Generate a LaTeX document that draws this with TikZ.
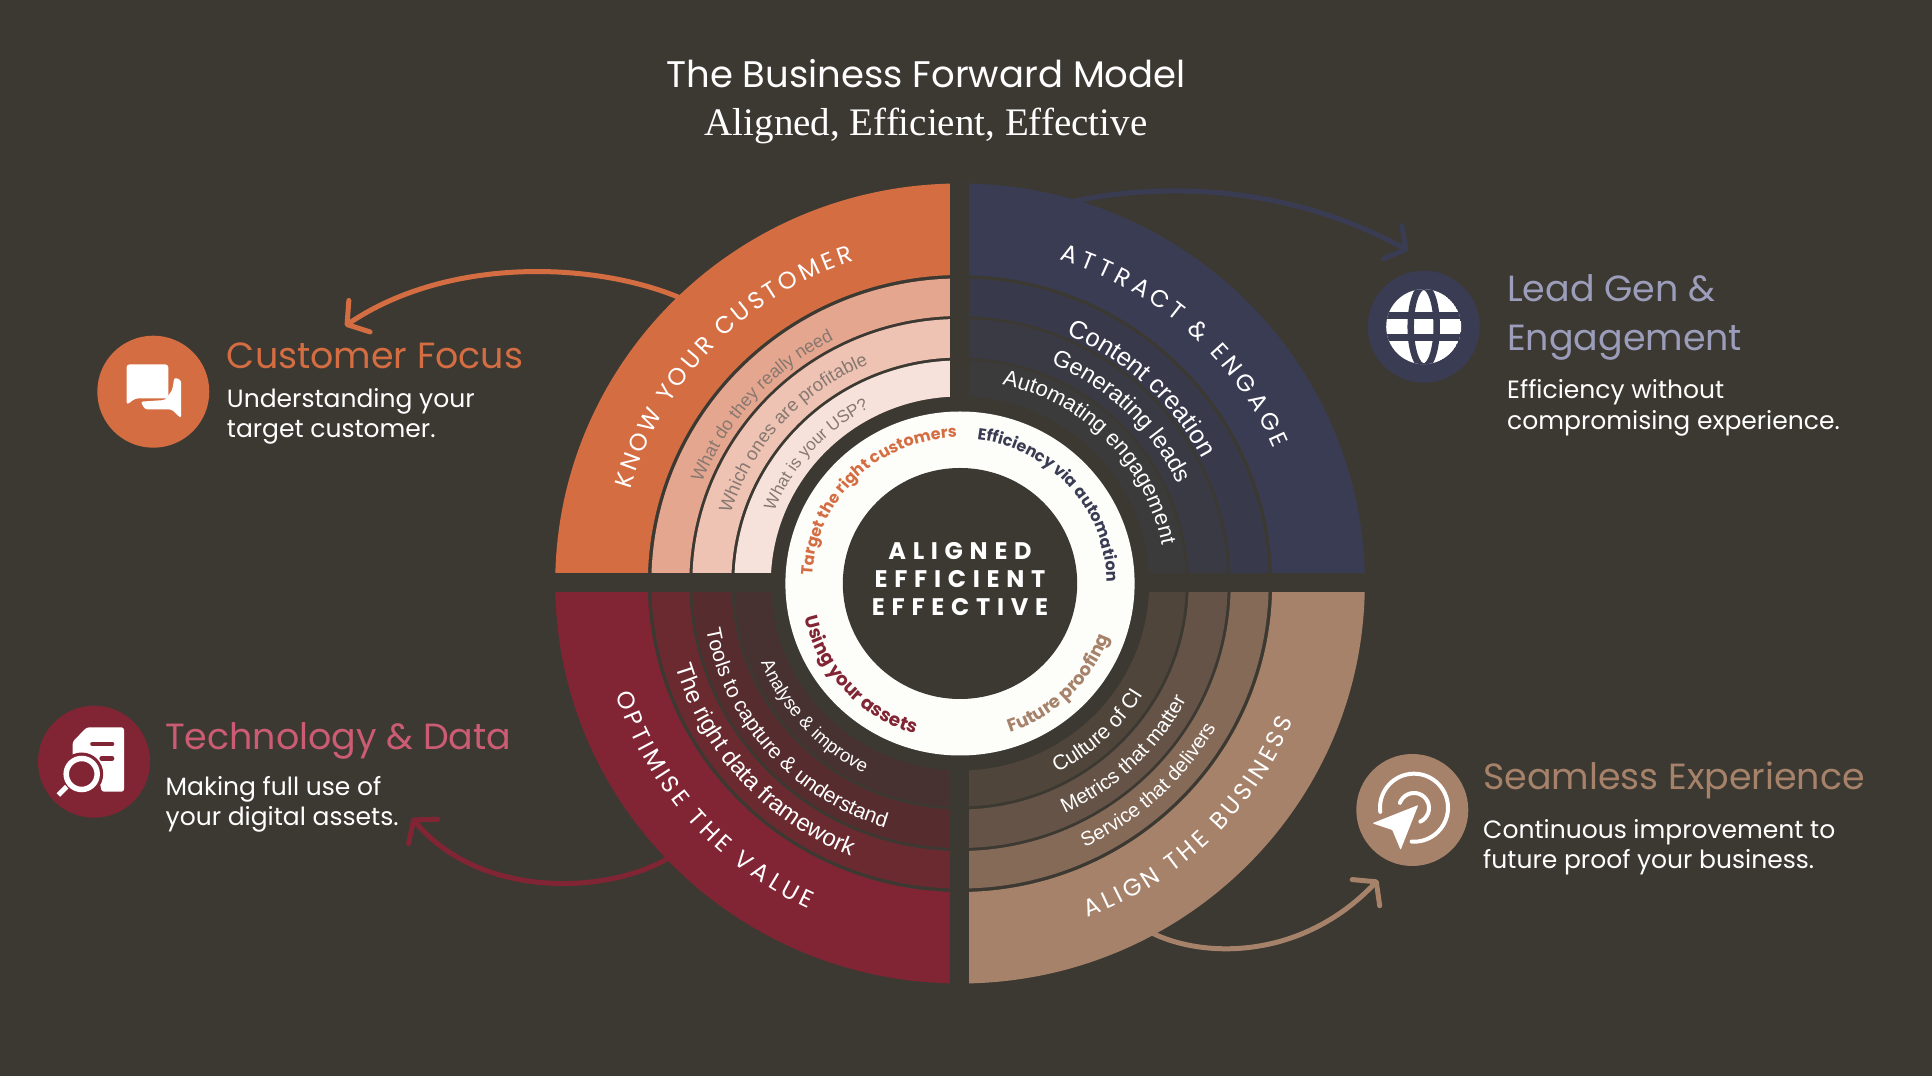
\documentclass[tikz,border=0pt]{standalone}
\usepackage{fontspec}
\usetikzlibrary{arrows.meta, decorations.text}
\setmainfont{Poppins}
\newfontfamily\bandfont{Liberation Sans}
\newfontfamily\subtitlefont{Liberation Serif}
\newfontfamily\centrefont[LetterSpace=28]{Poppins}
\definecolor{colorback}{RGB}{60,57,50}
\definecolor{colororange}{RGB}{213,109,66}
\definecolor{orange1}{RGB}{229,166,143}
\definecolor{orange2}{RGB}{238,195,179}
\definecolor{orange3}{RGB}{246,226,218}
\definecolor{colornavy}{RGB}{58,60,84}
\definecolor{navy1}{RGB}{56,57,75}
\definecolor{navy2}{RGB}{58,58,69}
\definecolor{navy3}{RGB}{60,59,59}
\definecolor{colorcrimson}{RGB}{129,37,53}
\definecolor{crimson1}{RGB}{106,42,48}
\definecolor{crimson2}{RGB}{87,44,46}
\definecolor{crimson3}{RGB}{72,50,49}
\definecolor{colorbrown}{RGB}{166,130,106}
\definecolor{brown1}{RGB}{134,106,88}
\definecolor{brown2}{RGB}{100,83,70}
\definecolor{brown3}{RGB}{80,69,59}
\definecolor{colorpink}{RGB}{203,92,115}
\definecolor{colorlilac}{RGB}{156,157,187}
\definecolor{colorgrey}{RGB}{134,120,112}
\definecolor{colorpaper}{RGB}{253,253,250}
\newcommand{\px}[1]{\fontsize{#1}{#1}\selectfont}
\newcommand{\bandsector}[5]{\fill[#1] (#2:{1.012*#4} and #4) arc[start angle=#2, end angle=#3, x radius=1.012*#4, y radius=#4] -- (#3:{1.012*#5} and #5) arc[start angle=#3, end angle=#2, x radius=1.012*#5, y radius=#5] -- cycle;}
\newcommand{\curvetext}[5]{\path[decorate, decoration={text along path, text align=center, text={|#4|#5}}] ({#1-(#3)*75}:{1.012*#2} and #2) arc[start angle=#1-(#3)*75, end angle=#1+(#3)*75, x radius=1.012*#2, y radius=#2];}
\newcommand{\capsarc}[6]{
	\xdef\capsang{#2}
	\foreach \ch/\chw [count=\i] in {#6}{
		\pgfmathsetmacro{\chstep}{(\chw*0.96 + #5)/#3*57.296}
		\pgfmathsetmacro{\chmid}{\capsang + (#4)*\chstep/2}
		\pgfmathsetmacro{\chnext}{\capsang + (#4)*\chstep}
		\pgfmathsetmacro{\chturn}{\chmid + (#4)*90}
		\node[anchor=base, inner sep=0pt, text=white, font=\px{24}, rotate=\chturn] (#1\i) at (\chmid:{1.012*#3} and #3) {\ch};
		\xdef\capsang{\chnext}
	}
}

\begin{document}
\begin{tikzpicture}[x=1pt, y=1pt]
	\tikzstyle{icondisc}=[circle, minimum size=112pt, inner sep=0pt]
	\tikzstyle{headline}=[anchor=base west, inner sep=0pt, font=\px{36.4}]
	\tikzstyle{bodytext}=[anchor=base west, inner sep=0pt, align=left, text=white, font=\fontsize{25}{30.5}\selectfont]
	\tikzstyle{swoop}=[line width=5pt, line cap=round, -{Straight Barb[length=15pt, width=38pt, line width=5pt, round]}]

	\fill[colorback] (0,0) rectangle (1932,1076);
	\useasboundingbox (0,0) rectangle (1932,1076);

	\node[anchor=base, inner sep=0pt, text=white, font=\px{37}] (title) at (926, 988.3) {The Business Forward Model};
	\node[anchor=base, inner sep=0pt, text=white, font=\subtitlefont\px{39}] (subtitle) at (926, 940) {Aligned, Efficient, Effective};

	\node[icondisc, fill=colororange] (customerdisc) at (153.3, 684.3) {};
	\node[icondisc, fill=colornavy] (leaddisc) at (1423.7, 749.3) {};
	\node[icondisc, fill=colorcrimson] (techdisc) at (94, 314.3) {};
	\node[icondisc, fill=colorbrown] (seamlessdisc) at (1412.3, 266) {};

	\coordinate (customerfrom) at (685, 776);
	\coordinate (customertip) at (345, 750);
	\coordinate (leadfrom) at (1075, 875);
	\coordinate (leadtip) at (1408, 825.3);
	\coordinate (techfrom) at (672, 220);
	\coordinate (techtip) at (412, 258);
	\coordinate (seamlessfrom) at (1150, 144);
	\coordinate (seamlesstip) at (1378, 196);

	\draw[swoop, colororange] (customerfrom) .. controls (600, 814) and (450, 821) .. (customertip);
	\draw[swoop, colornavy] (leadfrom) .. controls (1150, 891) and (1280, 896) .. (leadtip);
	\draw[swoop, colorcrimson] (techfrom) .. controls (610, 181) and (480, 176) .. (techtip);
	\draw[swoop, colorbrown] (seamlessfrom) .. controls (1200, 118) and (1300, 114) .. (seamlesstip);

	\begin{scope}[shift={(960, 492.5)}]
		\foreach \a/\b/\colmain/\colone/\coltwo/\colthree in {90/180/colororange/orange1/orange2/orange3, 0/90/colornavy/navy1/navy2/navy3, 180/270/colorcrimson/crimson1/crimson2/crimson3, 270/360/colorbrown/brown1/brown2/brown3}{
			\bandsector{\colmain}{\a}{\b}{400}{308.5}
			\bandsector{\colone}{\a}{\b}{305}{267.5}
			\bandsector{\coltwo}{\a}{\b}{264.5}{226}
			\bandsector{\colthree}{\a}{\b}{223}{187}
		}
		\fill[colorback] (-10, -420) rectangle (9.3, 420);
		\fill[colorback] (-420, -8.2) rectangle (420, 10.8);
		\fill[colorpaper] (0,0) ellipse[x radius=174.6, y radius=172];
		\fill[colorback] (0,0) ellipse[x radius=117.2, y radius=115.5];

		\capsarc{know}{164.3}{339}{-1}{2.6}{K/16.5,N/18,O/20,W/24.5,~/6.5,Y/15.5,O/20,U/17.7,R/16.2,~/6.5,C/18.7,U/17.7,S/15.2,T/15,O/20,M/21.8,E/14.5,R/16.2}
		\capsarc{attract}{73.6}{338}{-1}{3.6}{A/18.6,T/15,T/15,R/16.2,A/18.6,C/18.7,T/15,~/6.5,\&/16.5,~/6.5,E/14.5,N/18,G/19.3,A/18.6,G/19.3,E/14.5}
		\capsarc{optimise}{197.8}{358}{1}{2.9}{O/20,P/15.5,T/15,I/6.8,M/21.8,I/6.8,S/15.2,E/14.5,~/6.5,T/15,H/18,E/14.5,~/6.5,V/17.7,A/18.6,L/13.2,U/17.7,E/14.5}
		\capsarc{align}{-69.8}{357}{1}{2.8}{A/18.6,L/13.2,I/6.8,G/19.3,N/18,~/6.5,T/15,H/18,E/14.5,~/6.5,B/16.3,U/17.7,S/15.2,I/6.8,N/18,E/14.5,S/15.2,S/15.2}

		\curvetext{134.25}{146}{-1}{\bfseries\px{16}\color{colororange}}{Target the right customers}
		\curvetext{41.75}{145}{-1}{\bfseries\px{16}\color{colornavy}}{Efficiency via automation}
		\curvetext{222.8}{157}{1}{\bfseries\px{18.5}\color{colorcrimson}}{Using your assets}
		\curvetext{-45.5}{157}{1}{\bfseries\px{18}\color{colorbrown}}{Future proofing}

		\curvetext{138}{274}{-1}{\bandfont\px{18}\color{colorgrey}}{What do they really need}
		\curvetext{137.9}{237}{-1}{\bandfont\px{18.5}\color{colorgrey}}{Which ones are profitable}
		\curvetext{138.1}{197}{-1}{\bandfont\px{17}\color{colorgrey}}{What is your USP?}

		\curvetext{47}{270}{-1}{\bandfont\px{25.5}\color{white}}{Content creation}
		\curvetext{46}{237}{-1}{\bandfont\px{23.5}\color{white}}{Generating leads}
		\curvetext{44.3}{203}{-1}{\bandfont\px{22}\color{white}}{Automating engagement}

		\curvetext{222.2}{293}{1}{\bandfont\px{24}\color{white}}{The right data framework}
		\curvetext{221.5}{255}{1}{\bandfont\px{21}\color{white}}{Tools to capture {\&} understand}
		\curvetext{222.4}{212}{1}{\bandfont\px{18.5}\color{white}}{Analyse {\&} improve}

		\curvetext{-47}{291}{1}{\bandfont\px{20}\color{white}}{Service that delivers}
		\curvetext{-46.3}{252}{1}{\bandfont\px{20.5}\color{white}}{Metrics that matter}
		\curvetext{-47}{212}{1}{\bandfont\px{21}\color{white}}{Culture of CI}
	\end{scope}

	\node[anchor=base, inner sep=0pt, text=white, font=\centrefont\bfseries\px{24}] (centreone) at (960, 516) {ALIGNED};
	\node[anchor=base, inner sep=0pt, text=white, font=\centrefont\bfseries\px{24}] (centretwo) at (960, 488) {EFFICIENT};
	\node[anchor=base, inner sep=0pt, text=white, font=\centrefont\bfseries\px{24}] (centrethree) at (960, 460) {EFFECTIVE};

	\node[headline, text=colororange] (customerhead) at (226.7, 707) {Customer Focus};
	\node[bodytext] (customerbody) at (226.7, 638) {Understanding your\\target customer.};
	\node[headline, text=colorpink] (techhead) at (165, 326) {Technology \& Data};
	\node[bodytext] (techbody) at (165.5, 250) {Making full use of\\your digital assets.};
	\node[headline, text=colorlilac] (leadhead) at (1507, 774) {Lead Gen \&};
	\node[headline, text=colorlilac] (leadheadtwo) at (1507, 725.3) {Engagement};
	\node[bodytext] (leadbody) at (1507, 646.7) {Efficiency without\\compromising experience.};
	\node[headline, text=colorbrown] (seamlesshead) at (1483, 286.3) {Seamless Experience};
	\node[bodytext] (seamlessbody) at (1483, 207) {Continuous improvement to\\future proof your business.};

	\begin{scope}[shift={(customerdisc.center)}, white]
		\fill[rounded corners=3pt] (-26.7, 27.3) -- (15, 27.3) -- (15, -6.7) -- (-18, -6.7) -- (-26.7, -13.3) -- cycle;
		\fill[rounded corners=2.5pt] (21, 14.3) -- (27.7, 11.7) -- (27.7, -26.7) -- (18.3, -17.7) -- (-8.3, -17.7) -- (-12.7, -10) -- (11.7, -8.3) -- (19, 1.7) -- cycle;
	\end{scope}

	\begin{scope}[shift={(leaddisc.center)}]
		\begin{scope}
			\clip (0,0) circle[radius=37.5];
			\fill[white] (0,0) circle[radius=37.5];
			\fill[colornavy] (-40, 7.7) rectangle (40, 14.3);
			\fill[colornavy] (-40, -7.7) rectangle (40, -14.3);
			\draw[colornavy, line width=6.5pt] (0,0) ellipse[x radius=13, y radius=40];
		\end{scope}
	\end{scope}

	\begin{scope}[shift={(techdisc.center)}]
		\fill[white, rounded corners=2.5pt] (-7.3, 34.3) -- (30, 34.3) -- (30, -30) -- (7.7, -30) -- (4, -12) -- (-21.3, 0) -- (-21.3, 20) -- cycle;
		\draw[colorcrimson, line width=4.7pt, line cap=round] (-1.5, 17.7) -- (18, 17.7);
		\draw[colorcrimson, line width=4.7pt, line cap=round] (7.7, 3.3) -- (18, 3.3);
		\fill[colorcrimson] (-12.3, -12.3) circle[radius=21.5];
		\draw[white, line width=5.5pt] (-12.3, -12.3) circle[radius=15.5];
		\draw[white, line width=5pt] (-27.3, -25) -- (-35.7, -33.3);
	\end{scope}

	\begin{scope}[shift={(seamlessdisc.center)}]
		\fill[white, rounded corners=1pt] (-40, -13.3) -- (6, 5) -- (-11.7, -40) -- (-20, -20) -- cycle;
		\draw[white, line width=4pt, line cap=round] (187:34) ++(1.7, 2.3) arc[start angle=187, end angle=-94, radius=34];
		\draw[white, line width=4pt, line cap=round] (160:15) ++(1.7, 2) arc[start angle=160, end angle=-65, radius=15];
	\end{scope}
\end{tikzpicture}
\end{document}
